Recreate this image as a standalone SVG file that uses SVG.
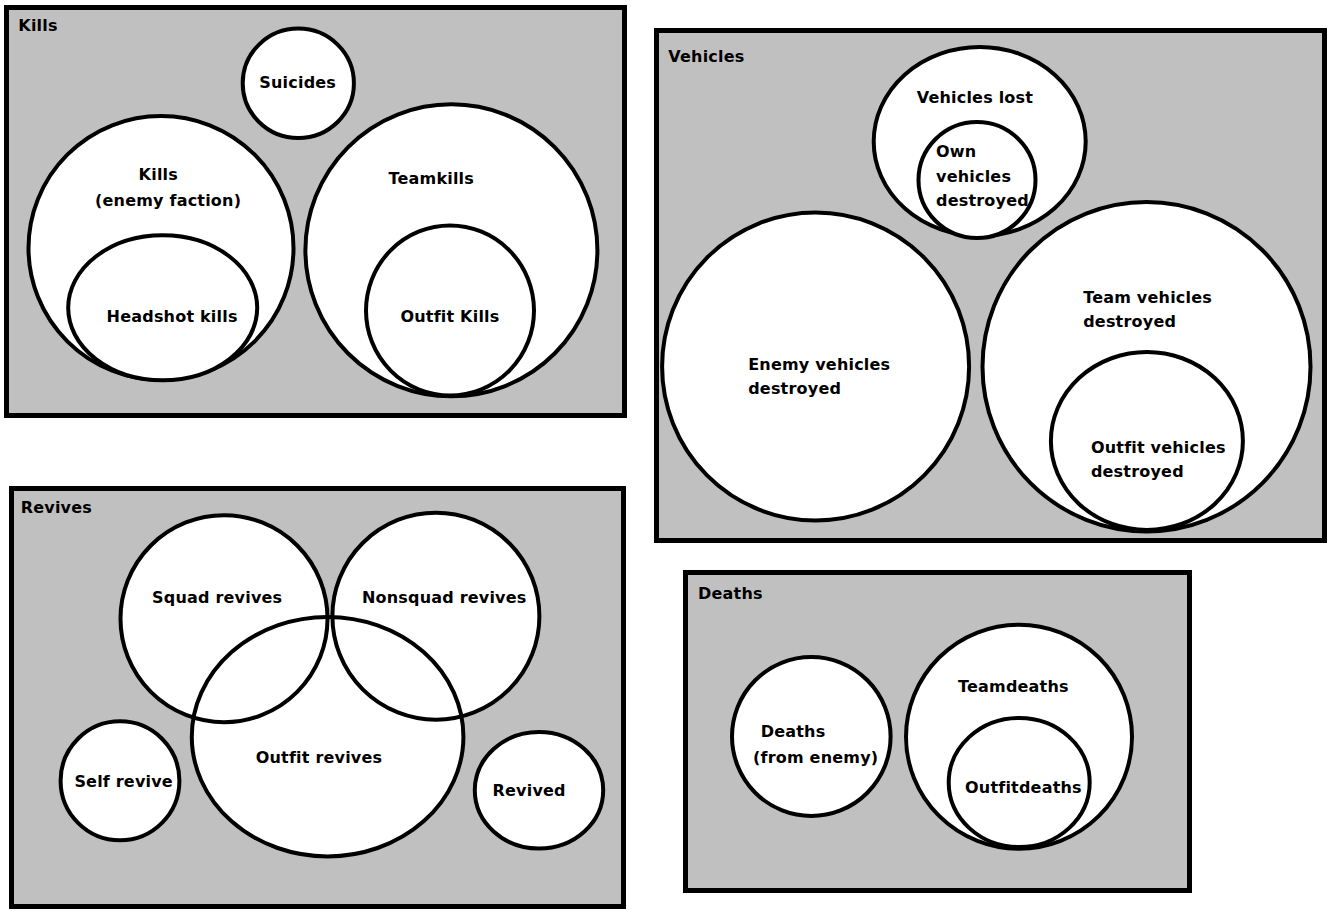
<svg xmlns="http://www.w3.org/2000/svg" width="1336" height="922" viewBox="0 0 1336 922">
<style>
.panel{fill:#c0c0c0;stroke:#000;stroke-width:5}
.c{fill:#fff;stroke:#000;stroke-width:4}
.f{fill:#fff;stroke:none}
.o{fill:none;stroke:#000;stroke-width:4}
text{font-family:"DejaVu Sans","Verdana",sans-serif;font-weight:bold;font-size:16px;letter-spacing:0.2px;fill:#000}
</style>
<rect width="1336" height="922" fill="#fff"/>
<g id="kills">
<rect class="panel" x="6.5" y="7.5" width="618" height="408"/>
<text x="18.3" y="31">Kills</text>
<g id="suicides"><ellipse class="c" cx="298.3" cy="83.3" rx="55.6" ry="54.7"/><text x="259.3" y="88">Suicides</text></g>
<g id="kills-enemy"><ellipse class="c" cx="161" cy="248" rx="132.5" ry="132"/><text x="138.6" y="180">Kills</text><text x="95" y="205.5">(enemy faction)</text></g>
<g id="headshot"><ellipse class="c" cx="162.7" cy="307.8" rx="94.5" ry="72.5"/><text x="106.6" y="321.7">Headshot kills</text></g>
<g id="teamkills"><ellipse class="c" cx="451.4" cy="250.3" rx="146" ry="146"/><text x="388.5" y="184">Teamkills</text></g>
<g id="outfit-kills"><ellipse class="c" cx="450" cy="310.5" rx="84" ry="85"/><text x="400.4" y="321.7">Outfit Kills</text></g>
</g>
<g id="vehicles">
<rect class="panel" x="656.5" y="30.5" width="668" height="510"/>
<text x="668.3" y="62.3">Vehicles</text>
<g id="vehicles-lost"><ellipse class="c" cx="979.7" cy="141.5" rx="106" ry="94.5"/><text x="916.7" y="103.3">Vehicles lost</text></g>
<g id="own-vehicles"><ellipse class="c" cx="977" cy="180" rx="58.5" ry="58"/><text x="936" y="157.3">Own</text><text x="936" y="181.7">vehicles</text><text x="936" y="205.5">destroyed</text></g>
<g id="enemy-vehicles"><ellipse class="c" cx="815.6" cy="366.5" rx="153.5" ry="154"/><text x="748.2" y="370">Enemy vehicles</text><text x="748.2" y="393.5">destroyed</text></g>
<g id="team-vehicles"><ellipse class="c" cx="1146.5" cy="366.7" rx="164" ry="164.7"/><text x="1083.2" y="303.3">Team vehicles</text><text x="1083.2" y="327.3">destroyed</text></g>
<g id="outfit-vehicles"><ellipse class="c" cx="1146.9" cy="441" rx="96" ry="89"/><text x="1090.9" y="453.3">Outfit vehicles</text><text x="1090.9" y="477.3">destroyed</text></g>
</g>
<g id="revives">
<rect class="panel" x="11.5" y="488.5" width="612" height="418"/>
<text x="20.7" y="513.3">Revives</text>
<g id="revive-fills">
<ellipse class="f" cx="224" cy="618.7" rx="103.5" ry="103.5"/>
<ellipse class="f" cx="435.9" cy="616.2" rx="103.5" ry="103.5"/>
<ellipse class="f" cx="327.6" cy="736.7" rx="135.8" ry="119.7"/>
</g>
<g id="squad-revives"><ellipse class="o" cx="224" cy="618.7" rx="103.5" ry="103.5"/><text x="152.1" y="602.7">Squad revives</text></g>
<g id="nonsquad-revives"><ellipse class="o" cx="435.9" cy="616.2" rx="103.5" ry="103.5"/><text x="361.9" y="602.7">Nonsquad revives</text></g>
<g id="outfit-revives"><ellipse class="o" cx="327.6" cy="736.7" rx="135.8" ry="119.7"/><text x="255.7" y="762.7">Outfit revives</text></g>
<g id="self-revive"><ellipse class="c" cx="120" cy="780.8" rx="59.4" ry="59.5"/><text x="74.4" y="787.3">Self revive</text></g>
<g id="revived"><ellipse class="c" cx="539" cy="790.3" rx="64.2" ry="58.3"/><text x="492.5" y="795.7">Revived</text></g>
</g>
<g id="deaths">
<rect class="panel" x="685.5" y="572.5" width="504" height="318"/>
<text x="698" y="599.3">Deaths</text>
<g id="deaths-enemy"><ellipse class="c" cx="811.3" cy="736.5" rx="79.3" ry="79.5"/><text x="760.7" y="736.7">Deaths</text><text x="753" y="763">(from enemy)</text></g>
<g id="teamdeaths"><ellipse class="c" cx="1019" cy="736.7" rx="113" ry="112"/><text x="958" y="692">Teamdeaths</text></g>
<g id="outfitdeaths"><ellipse class="c" cx="1019.2" cy="782.5" rx="70.5" ry="64.5"/><text x="965" y="793">Outfitdeaths</text></g>
</g>
<g id="connectors"/>
</svg>
